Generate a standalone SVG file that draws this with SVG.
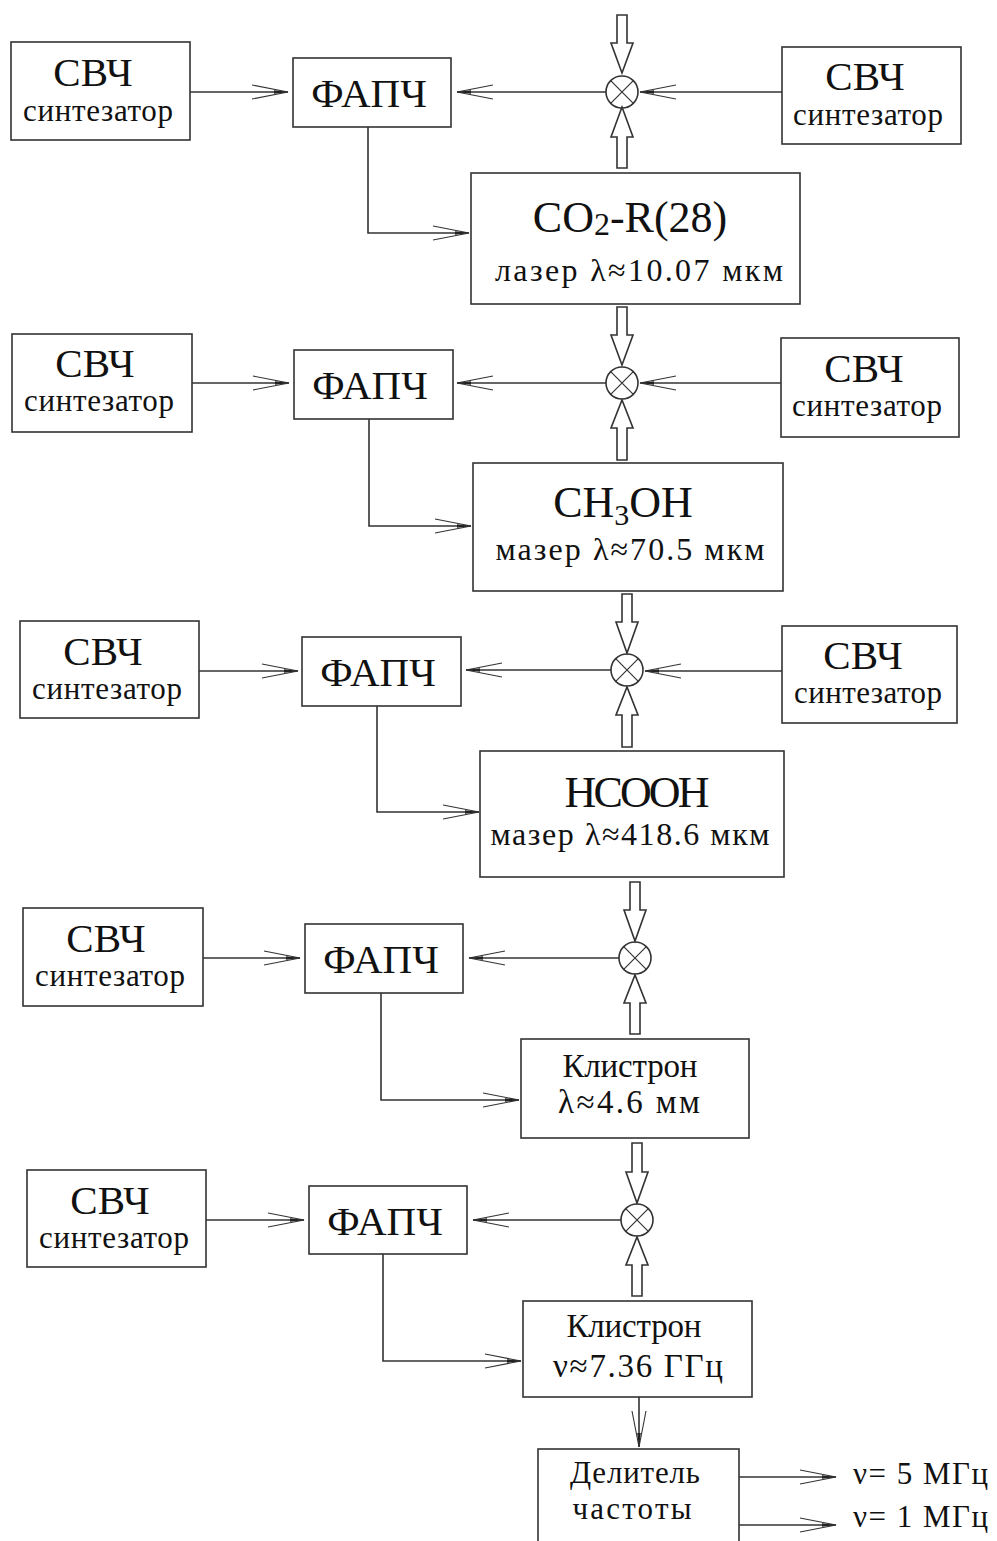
<svg xmlns="http://www.w3.org/2000/svg" width="997" height="1541" viewBox="0 0 997 1541">
<style>
rect.b{fill:#fff;stroke:#333;stroke-width:1.6}
text{font-family:"Liberation Serif","Times New Roman",serif;fill:#111}
.big{font-size:41px;text-anchor:middle}
.syn{font-size:31px;text-anchor:middle}
.f{font-size:44px;text-anchor:middle}
.l2{font-size:32px;text-anchor:middle}
.k{font-size:33px;text-anchor:middle}
.d{font-size:31px;text-anchor:middle}
.o{font-size:31px}
.ln{fill:none;stroke:#333;stroke-width:1.6}
.ha{fill:#fff;stroke:#333;stroke-width:1.6;stroke-linejoin:miter}
.mx circle{fill:#fff;stroke:#333;stroke-width:1.6}
.mx path{stroke:#333;stroke-width:1.2;fill:none}
</style>
<defs>
<marker id="ah" markerUnits="userSpaceOnUse" orient="auto" refX="0" refY="0" markerWidth="40" markerHeight="20" viewBox="-40 -10 40 20" overflow="visible">
<path d="M-36,-7 L0,0 L-36,7" fill="none" stroke="#333" stroke-width="1.1"/>
<path d="M-14,-1.8 L0,0 L-14,1.8 Z" fill="#222"/>
</marker>
</defs>

<!-- Row 1 -->
<g id="svch1L"><rect class="b" x="11" y="42" width="179" height="98"/><text class="big" x="93" y="86">СВЧ</text><text class="syn" x="98" y="121" textLength="150">синтезатор</text></g>
<g id="fapch1"><rect class="b" x="293" y="58" width="158" height="69"/><text class="big" x="369" y="107">ФАПЧ</text></g>
<g id="svch1R"><rect class="b" x="782" y="47" width="179" height="97"/><text class="big" x="865" y="90">СВЧ</text><text class="syn" x="868" y="125" textLength="150">синтезатор</text></g>
<g id="co2"><rect class="b" x="471" y="173" width="329" height="131"/><text class="f" x="630" y="232">CO<tspan font-size="32" dy="3">2</tspan><tspan dy="-3">-R(28)</tspan></text><text class="l2" x="639" y="281" textLength="288">лазер  λ≈10.07 мкм</text></g>
<g id="mix1" class="mx"><circle cx="622" cy="92" r="16"/><path d="M610.7,80.7 L633.3,103.3 M633.3,80.7 L610.7,103.3"/></g>

<!-- Row 2 -->
<g id="svch2L"><rect class="b" x="12" y="334" width="180" height="98"/><text class="big" x="95" y="377">СВЧ</text><text class="syn" x="99" y="411" textLength="150">синтезатор</text></g>
<g id="fapch2"><rect class="b" x="294" y="350" width="159" height="69"/><text class="big" x="370" y="399">ФАПЧ</text></g>
<g id="svch2R"><rect class="b" x="781" y="338" width="178" height="99"/><text class="big" x="864" y="382">СВЧ</text><text class="syn" x="867" y="416" textLength="150">синтезатор</text></g>
<g id="ch3oh"><rect class="b" x="473" y="463" width="310" height="128"/><text class="f" x="623" y="517">CH<tspan font-size="30" dy="8">3</tspan><tspan dy="-8">OH</tspan></text><text class="l2" x="630" y="560" textLength="269">мазер  λ≈70.5 мкм</text></g>
<g id="mix2" class="mx"><circle cx="622" cy="383" r="16"/><path d="M610.7,371.7 L633.3,394.3 M633.3,371.7 L610.7,394.3"/></g>

<!-- Row 3 -->
<g id="svch3L"><rect class="b" x="20" y="621" width="179" height="97"/><text class="big" x="103" y="665">СВЧ</text><text class="syn" x="107" y="699" textLength="150">синтезатор</text></g>
<g id="fapch3"><rect class="b" x="302" y="637" width="159" height="69"/><text class="big" x="378" y="686">ФАПЧ</text></g>
<g id="svch3R"><rect class="b" x="782" y="626" width="175" height="97"/><text class="big" x="863" y="669">СВЧ</text><text class="syn" x="868" y="703" textLength="148">синтезатор</text></g>
<g id="hcooh"><rect class="b" x="480" y="751" width="304" height="126"/><text class="f" x="637" y="807" textLength="145">HCOOH</text><text class="l2" x="630" y="845" textLength="279">мазер  λ≈418.6 мкм</text></g>
<g id="mix3" class="mx"><circle cx="627" cy="670" r="16"/><path d="M615.7,658.7 L638.3,681.3 M638.3,658.7 L615.7,681.3"/></g>

<!-- Row 4 -->
<g id="svch4L"><rect class="b" x="23" y="908" width="180" height="98"/><text class="big" x="106" y="952">СВЧ</text><text class="syn" x="110" y="986" textLength="150">синтезатор</text></g>
<g id="fapch4"><rect class="b" x="305" y="924" width="158" height="69"/><text class="big" x="381" y="973">ФАПЧ</text></g>
<g id="klys1"><rect class="b" x="521" y="1039" width="228" height="99"/><text class="k" x="630" y="1077" textLength="135">Клистрон</text><text class="k" x="629" y="1113" textLength="142">λ≈4.6 мм</text></g>
<g id="mix4" class="mx"><circle cx="635" cy="958" r="16"/><path d="M623.7,946.7 L646.3,969.3 M646.3,946.7 L623.7,969.3"/></g>

<!-- Row 5 -->
<g id="svch5L"><rect class="b" x="27" y="1170" width="179" height="97"/><text class="big" x="110" y="1214">СВЧ</text><text class="syn" x="114" y="1248" textLength="150">синтезатор</text></g>
<g id="fapch5"><rect class="b" x="309" y="1186" width="158" height="68"/><text class="big" x="385" y="1235">ФАПЧ</text></g>
<g id="klys2"><rect class="b" x="523" y="1301" width="229" height="96"/><text class="k" x="634" y="1337" textLength="135">Клистрон</text><text class="k" x="638" y="1377" textLength="170">ν≈7.36 ГГц</text></g>
<g id="mix5" class="mx"><circle cx="637" cy="1220" r="16"/><path d="M625.7,1208.7 L648.3,1231.3 M648.3,1208.7 L625.7,1231.3"/></g>

<!-- Divider -->
<g id="divider"><rect class="b" x="538" y="1449" width="201" height="110"/><text class="d" x="635" y="1483" textLength="130">Делитель</text><text class="d" x="632" y="1519" textLength="119">частоты</text></g>
<g id="out5"><text class="o" x="853" y="1484" textLength="135">ν= 5 МГц</text></g>
<g id="out1"><text class="o" x="853" y="1527" textLength="135">ν= 1 МГц</text></g>

<g id="connectors">
<!-- hollow arrows -->
<polygon class="ha" points="617,15 627,15 627,43 633,43 622,73 611,43 617,43"/>
<polygon class="ha" points="617,168 627,168 627,137 633,137 622,107 611,137 617,137"/>
<polygon class="ha" points="617,307 627,307 627,335 633,335 622,365 611,335 617,335"/>
<polygon class="ha" points="617,460 627,460 627,428 633,428 622,400 611,428 617,428"/>
<polygon class="ha" points="622,594 632,594 632,622 638,622 627,653 616,622 622,622"/>
<polygon class="ha" points="622,747 632,747 632,715 638,715 627,687 616,715 622,715"/>
<polygon class="ha" points="630,882 640,882 640,910 646,910 635,941 624,910 630,910"/>
<polygon class="ha" points="630,1034 640,1034 640,1003 646,1003 635,975 624,1003 630,1003"/>
<polygon class="ha" points="632,1143 642,1143 642,1172 648,1172 637,1203 626,1172 632,1172"/>
<polygon class="ha" points="632,1296 642,1296 642,1265 648,1265 637,1237 626,1265 632,1265"/>
<!-- thin arrows row 1 -->
<path class="ln" d="M190,92 H288" marker-end="url(#ah)"/>
<path class="ln" d="M606,92 H457" marker-end="url(#ah)"/>
<path class="ln" d="M782,92 H640" marker-end="url(#ah)"/>
<path class="ln" d="M368,127 V233 H469" marker-end="url(#ah)"/>
<!-- row 2 -->
<path class="ln" d="M192,383 H289" marker-end="url(#ah)"/>
<path class="ln" d="M606,383 H457" marker-end="url(#ah)"/>
<path class="ln" d="M781,383 H640" marker-end="url(#ah)"/>
<path class="ln" d="M369,419 V526 H471" marker-end="url(#ah)"/>
<!-- row 3 -->
<path class="ln" d="M199,671 H298" marker-end="url(#ah)"/>
<path class="ln" d="M611,670 H466" marker-end="url(#ah)"/>
<path class="ln" d="M782,671 H645" marker-end="url(#ah)"/>
<path class="ln" d="M377,706 V812 H479" marker-end="url(#ah)"/>
<!-- row 4 -->
<path class="ln" d="M203,958 H300" marker-end="url(#ah)"/>
<path class="ln" d="M619,958 H469" marker-end="url(#ah)"/>
<path class="ln" d="M381,993 V1100 H519" marker-end="url(#ah)"/>
<!-- row 5 -->
<path class="ln" d="M206,1220 H304" marker-end="url(#ah)"/>
<path class="ln" d="M621,1220 H473" marker-end="url(#ah)"/>
<path class="ln" d="M383,1254 V1361 H521" marker-end="url(#ah)"/>
<!-- bottom -->
<path class="ln" d="M639,1397 V1447" marker-end="url(#ah)"/>
<path class="ln" d="M739,1477 H836" marker-end="url(#ah)"/>
<path class="ln" d="M739,1525 H836" marker-end="url(#ah)"/>
</g>
</svg>
